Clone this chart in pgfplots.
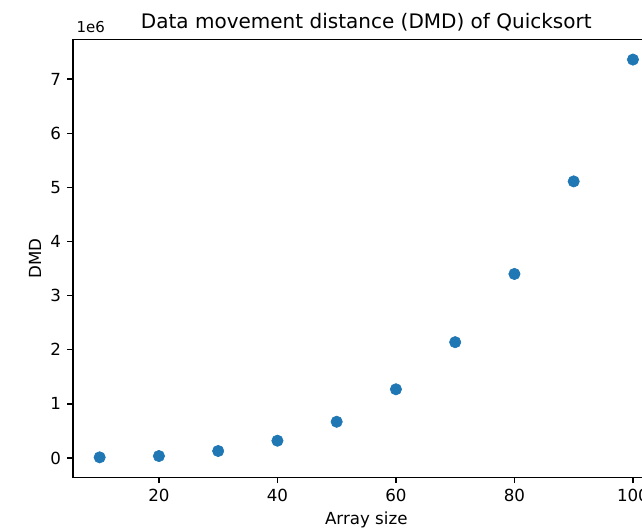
\documentclass[border=0pt]{standalone}
\usepackage{pgfplots}
\pgfplotsset{compat=1.18}
\usepackage{fontspec}
\setmainfont{DejaVu Sans}
\definecolor{mplblue}{HTML}{1F77B4}
\begin{document}
\begin{tikzpicture}
\begin{axis}[
  at={(43.8pt,29.88pt)}, anchor=south west,
  scale only axis, width=351.96pt, height=262.5pt,
  xmin=5.5, xmax=104.5, ymin=-354000, ymax=7727000,
  xtick={20,40,60,80,100}, xticklabels={20,40,60,80,100},
  ytick={0,1000000,2000000,3000000,4000000,5000000,6000000,7000000},
  yticklabels={0,1,2,3,4,5,6,7},
  scaled ticks=false,
  tick align=outside, major tick length=3.5pt,
  xtick pos=lower, ytick pos=left,
  tick style={black, line width=0.8pt},
  axis line style={black, line width=0.8pt},
  /pgf/number format/assume math mode=true,
  ticklabel style={font=\fontsize{10}{12}\selectfont},
  xticklabel style={anchor=base, inner sep=0pt, yshift=-11.3pt},
  yticklabel style={anchor=east, inner sep=0pt, xshift=-3.5pt},
  clip=false,
]
\addplot[only marks, mark=*, mark size=3.4pt, color=mplblue, mark options={draw=mplblue, fill=mplblue}] coordinates {
  (10,13000) (20,37000) (30,130000) (40,320000) (50,670000)
  (60,1270000) (70,2140000) (80,3400000) (90,5110000) (100,7360000)
};
\node[anchor=base west, inner sep=0pt, font=\fontsize{9}{11}\selectfont] at (rel axis cs:0,1) [yshift=4.6pt, xshift=2pt] {1e6};
\node[anchor=base, inner sep=0pt, font=\fontsize{12}{14}\selectfont] at (rel axis cs:0.5,1) [yshift=7pt] {Data movement distance (DMD) of Quicksort};
\node[anchor=base, inner sep=0pt, font=\fontsize{10}{12}\selectfont] at (rel axis cs:0.5,0) [yshift=-28.4pt] {Array size};
\node[xshift=-22.8pt, rotate=90, anchor=center, inner sep=0pt, font=\fontsize{10}{12}\selectfont] at (rel axis cs:0,0.5) {DMD};
\end{axis}
\pgfresetboundingbox
\useasboundingbox (0,0) rectangle (385.2pt,316.2pt);
\end{tikzpicture}
\end{document}
